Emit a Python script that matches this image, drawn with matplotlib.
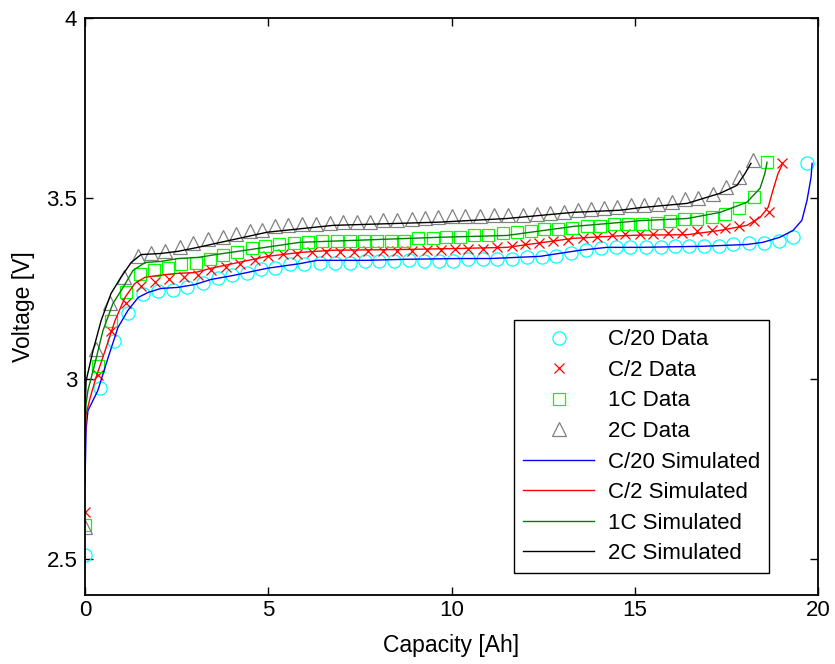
import matplotlib
matplotlib.use("Agg")
import matplotlib.pyplot as plt

plt.rcParams['font.family'] = ['Liberation Sans', 'DejaVu Sans']

# ---- measured discharge data ----
c20_x = [0, 0.41, 0.79, 1.17, 1.58, 1.99, 2.40, 2.78, 3.22, 3.63, 4.01, 4.42, 4.80, 5.18,
         5.59, 5.98, 6.40, 6.82, 7.22, 7.64, 8.02, 8.43, 8.84, 9.25, 9.66, 10.04, 10.45,
         10.86, 11.24, 11.65, 12.06, 12.47, 12.85, 13.26, 13.67, 14.08, 14.49, 14.87,
         15.31, 15.72, 16.10, 16.48, 16.89, 17.30, 17.68, 18.12, 18.53, 18.94, 19.32, 19.70]
c20_v = [2.511, 2.975, 3.103, 3.183, 3.236, 3.242, 3.247, 3.253, 3.264, 3.278, 3.286, 3.292,
         3.303, 3.308, 3.317, 3.319, 3.322, 3.322, 3.322, 3.325, 3.325, 3.325, 3.328, 3.325,
         3.325, 3.325, 3.331, 3.331, 3.331, 3.331, 3.336, 3.336, 3.339, 3.347, 3.356, 3.361,
         3.364, 3.364, 3.364, 3.364, 3.367, 3.367, 3.367, 3.367, 3.372, 3.375, 3.375, 3.381,
         3.394, 3.597]

c2_x = [0, 0.35, 0.71, 1.12, 1.53, 1.91, 2.29, 2.70, 3.08, 3.44, 3.85, 4.24, 4.64, 4.99,
        5.40, 5.78, 6.19, 6.58, 6.96, 7.34, 7.72, 8.13, 8.51, 8.92, 9.33, 9.71, 10.10, 10.45,
        10.86, 11.24, 11.65, 12.01, 12.39, 12.77, 13.18, 13.59, 13.97, 14.38, 14.73, 15.14,
        15.50, 15.91, 16.29, 16.70, 17.11, 17.46, 17.84, 18.25, 18.66, 19.02]
c2_v = [2.631, 3.011, 3.133, 3.211, 3.258, 3.267, 3.275, 3.281, 3.286, 3.300, 3.309, 3.319,
        3.330, 3.339, 3.346, 3.346, 3.351, 3.351, 3.351, 3.351, 3.353, 3.354, 3.354, 3.354,
        3.356, 3.358, 3.360, 3.360, 3.360, 3.365, 3.369, 3.374, 3.376, 3.383, 3.385, 3.391,
        3.394, 3.397, 3.400, 3.400, 3.400, 3.403, 3.403, 3.408, 3.412, 3.417, 3.422, 3.436,
        3.461, 3.597]

c1_x = [0, 0.35, 0.71, 1.12, 1.50, 1.88, 2.26, 2.62, 3.03, 3.41, 3.77, 4.15, 4.56, 4.91,
        5.29, 5.70, 6.08, 6.47, 6.88, 7.23, 7.61, 7.97, 8.35, 8.70, 9.09, 9.50, 9.85, 10.23,
        10.61, 11.00, 11.41, 11.79, 12.17, 12.52, 12.91, 13.29, 13.70, 14.05, 14.43, 14.82,
        15.20, 15.61, 15.96, 16.34, 16.70, 17.11, 17.46, 17.84, 18.25, 18.61]
c1_v = [2.594, 3.036, 3.161, 3.239, 3.289, 3.300, 3.306, 3.317, 3.322, 3.333, 3.342, 3.352,
        3.362, 3.367, 3.373, 3.377, 3.380, 3.382, 3.383, 3.383, 3.383, 3.383, 3.383, 3.383,
        3.389, 3.390, 3.392, 3.394, 3.397, 3.397, 3.403, 3.406, 3.408, 3.414, 3.414, 3.417,
        3.422, 3.422, 3.428, 3.428, 3.428, 3.431, 3.436, 3.442, 3.444, 3.447, 3.456, 3.472,
        3.503, 3.600]

c2c_x = [0, 0.30, 0.68, 1.06, 1.45, 1.80, 2.18, 2.59, 2.95, 3.36, 3.77, 4.12, 4.50, 4.83,
         5.18, 5.54, 5.92, 6.30, 6.68, 7.04, 7.42, 7.78, 8.13, 8.51, 8.92, 9.28, 9.63, 10.01,
         10.37, 10.78, 11.16, 11.54, 11.95, 12.33, 12.69, 13.07, 13.45, 13.81, 14.16, 14.52,
         14.90, 15.25, 15.64, 16.02, 16.37, 16.73, 17.13, 17.49, 17.84, 18.23]
c2c_v = [2.589, 3.083, 3.211, 3.281, 3.339, 3.347, 3.353, 3.364, 3.375, 3.386, 3.393, 3.402,
         3.409, 3.413, 3.422, 3.425, 3.430, 3.430, 3.431, 3.434, 3.434, 3.434, 3.439, 3.441,
         3.444, 3.446, 3.448, 3.450, 3.450, 3.452, 3.453, 3.455, 3.455, 3.456, 3.459, 3.462,
         3.467, 3.469, 3.473, 3.476, 3.481, 3.482, 3.485, 3.490, 3.499, 3.501, 3.513, 3.531,
         3.559, 3.606]

# ---- model output ----
sim_c20_x = [0, 0.03, 0.08, 0.35, 0.63, 0.90, 1.17, 1.45, 1.72, 2.07, 2.54, 3.00, 3.44, 4.04,
             4.97, 5.87, 6.33, 7.69, 8.79, 10.23, 11.05, 12.41, 13.51, 14.24, 15.14, 16.86,
             18.06, 18.50, 18.96, 19.32, 19.56, 19.70, 19.81, 19.84]
sim_c20_v = [2.710, 2.860, 2.911, 2.967, 3.058, 3.142, 3.189, 3.225, 3.239, 3.250, 3.253,
             3.261, 3.275, 3.286, 3.306, 3.319, 3.328, 3.328, 3.331, 3.333, 3.333, 3.339,
             3.356, 3.364, 3.364, 3.367, 3.372, 3.378, 3.392, 3.411, 3.439, 3.494, 3.558, 3.597]

sim_c2_x = [0, 0.03, 0.14, 0.30, 0.55, 0.82, 1.09, 1.36, 1.64, 1.99, 2.54, 3.00, 3.44, 4.04,
            4.97, 5.87, 6.77, 8.59, 10.23, 11.51, 13.32, 14.60, 15.14, 16.43, 17.33, 18.06,
            18.42, 18.64, 18.77, 18.91, 19.02]
sim_c2_v = [2.810, 2.900, 2.947, 3.003, 3.078, 3.161, 3.225, 3.264, 3.281, 3.286, 3.292,
            3.294, 3.306, 3.319, 3.339, 3.350, 3.356, 3.358, 3.361, 3.364, 3.389, 3.396,
            3.398, 3.399, 3.411, 3.425, 3.447, 3.475, 3.522, 3.569, 3.592]

sim_c1_x = [0, 0.03, 0.08, 0.27, 0.49, 0.76, 1.04, 1.31, 1.64, 2.07, 2.54, 3.08, 3.57, 5.87,
            9.69, 11.51, 13.32, 14.60, 15.14, 16.43, 17.33, 18.06, 18.42, 18.55, 18.61]
sim_c1_v = [2.850, 2.930, 2.967, 3.042, 3.133, 3.208, 3.253, 3.300, 3.322, 3.325, 3.333,
            3.336, 3.344, 3.378, 3.392, 3.397, 3.422, 3.433, 3.438, 3.444, 3.461, 3.489,
            3.528, 3.569, 3.600]

sim_2c_x = [0, 0.03, 0.22, 0.44, 0.71, 0.98, 1.26, 1.53, 2.07, 2.54, 3.08, 3.57, 4.97, 6.77,
            9.69, 10.23, 11.51, 13.32, 14.60, 15.14, 16.43, 17.33, 17.79, 18.01, 18.17]
sim_2c_v = [2.900, 2.994, 3.078, 3.161, 3.236, 3.281, 3.322, 3.344, 3.347, 3.353, 3.364,
            3.375, 3.406, 3.425, 3.434, 3.437, 3.444, 3.461, 3.467, 3.474, 3.486, 3.514,
            3.536, 3.569, 3.597]

x_ticks = [0, 5, 10, 15, 20]
y_ticks = [2.5, 3, 3.5, 4]
y_tick_labels = ['2.5', '3', '3.5', '4']

fig = plt.figure(figsize=(8.35, 6.64), dpi=100)
ax = fig.add_axes([85 / 835, 1 - 595 / 664, 733 / 835, 577 / 664])

mk = dict(linestyle='none', markerfacecolor='none', markeredgewidth=0.9)
ax.plot(c20_x, c20_v, marker='o', markersize=9.5, markeredgecolor='#00ffff', label='C/20 Data', **mk)
ax.plot(c2_x, c2_v, marker='x', markersize=7.5, markeredgecolor='#ff0000', label='C/2 Data', **mk)
ax.plot(c1_x, c1_v, marker='s', markersize=8.5, markeredgecolor='#00ff00', label='1C Data', **mk)
ax.plot(c2c_x, c2c_v, marker='^', markersize=10, markeredgecolor='#808080', label='2C Data', **mk)

ax.plot(sim_c20_x, sim_c20_v, color='#0000ff', lw=1.0, label='C/20 Simulated')
ax.plot(sim_c2_x, sim_c2_v, color='#ff0000', lw=1.0, label='C/2 Simulated')
ax.plot(sim_c1_x, sim_c1_v, color='#008000', lw=1.0, label='1C Simulated')
ax.plot(sim_2c_x, sim_2c_v, color='#000000', lw=1.0, label='2C Simulated')

ax.set_xlim(0, 20)
ax.set_ylim(2.4, 4)
ax.set_xticks(x_ticks)
ax.set_xticklabels([str(t) for t in x_ticks])
ax.set_yticks(y_ticks)
ax.set_yticklabels(y_tick_labels)
ax.tick_params(direction='in', top=True, right=True, length=5.5, width=1.0,
               labelsize=16, color='black')
ax.tick_params(axis='x', pad=3.5)
ax.tick_params(axis='y', pad=5.5)
for s in ax.spines.values():
    s.set_linewidth(1.3)
    s.set_color('black')

ax.set_xlabel('Capacity [Ah]', fontsize=16.5, labelpad=9.5)
ax.set_ylabel('Voltage [V]', fontsize=16.5, labelpad=8)

leg = ax.legend(loc='lower right', bbox_to_anchor=(0.933, 0.038), fontsize=16,
                frameon=True, fancybox=False, edgecolor='black', framealpha=1,
                handlelength=3.2, handletextpad=0.6, labelspacing=0.43,
                borderpad=0.4, borderaxespad=0, numpoints=1)
leg.get_frame().set_linewidth(1.0)

fig.savefig('out.png', dpi=100)
